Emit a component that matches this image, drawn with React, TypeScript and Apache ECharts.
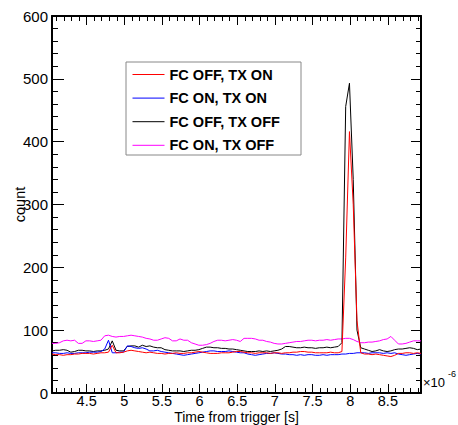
import React, { useEffect, useRef } from "react";
import * as echarts from "echarts";

// Time axis (units of 1e-6 s)
const times = [
  4.04, 4.09, 4.14, 4.19, 4.24, 4.29, 4.34, 4.39, 4.44, 4.49,
  4.54, 4.59, 4.64, 4.69, 4.74, 4.79, 4.84, 4.89, 4.94, 4.99,
  5.04, 5.09, 5.14, 5.19, 5.24, 5.29, 5.34, 5.39, 5.44, 5.49,
  5.54, 5.59, 5.64, 5.69, 5.74, 5.79, 5.84, 5.89, 5.94, 5.99,
  6.04, 6.09, 6.14, 6.19, 6.24, 6.29, 6.34, 6.39, 6.44, 6.49,
  6.54, 6.59, 6.64, 6.69, 6.74, 6.79, 6.84, 6.89, 6.94, 6.99,
  7.04, 7.09, 7.14, 7.19, 7.24, 7.29, 7.34, 7.39, 7.44, 7.49,
  7.54, 7.59, 7.64, 7.69, 7.74, 7.79, 7.84, 7.89, 7.94, 7.99,
  8.04, 8.09, 8.14, 8.19, 8.24, 8.29, 8.34, 8.39, 8.44, 8.49,
  8.54, 8.59, 8.64, 8.69, 8.74, 8.79, 8.84, 8.89, 8.94,
];

// FC OFF, TX ON (red)
const fcOffTxOn = [
  62, 61, 61, 60, 61, 61, 62, 62, 63, 63,
  63, 62, 63, 64, 64, 65, 76, 64, 64, 65,
  67, 68, 67, 66, 65, 64, 65, 64, 63, 63,
  62, 63, 63, 64, 63, 63, 64, 64, 65, 66,
  65, 64, 63, 63, 63, 64, 64, 64, 65, 66,
  66, 65, 64, 64, 63, 64, 64, 64, 63, 64,
  64, 63, 64, 64, 65, 65, 66, 66, 65, 65,
  64, 64, 64, 64, 65, 64, 64, 66, 215, 416,
  300, 115, 64, 62, 62, 61, 62, 61, 60, 59,
  58, 60, 63, 63, 64, 64, 63, 64, 63,
];

// FC ON, TX ON (blue)
const fcOnTxOn = [
  64, 64, 63, 63, 64, 63, 63, 64, 64, 64,
  65, 65, 65, 66, 70, 84, 64, 64, 65, 65,
  75, 74, 72, 71, 72, 70, 67, 67, 68, 66,
  65, 64, 63, 62, 61, 60, 61, 62, 63, 64,
  65, 66, 67, 67, 66, 66, 66, 67, 66, 65,
  64, 64, 62, 61, 60, 61, 62, 63, 63, 64,
  63, 62, 62, 61, 61, 60, 61, 60, 61, 61,
  60, 60, 61, 60, 61, 61, 61, 62, 62, 63,
  63, 64, 64, 64, 63, 64, 64, 64, 63, 64,
  63, 64, 62, 61, 60, 61, 62, 63, 62,
];

// FC OFF, TX OFF (black)
const fcOffTxOff = [
  67, 68, 68, 69, 68, 65, 66, 68, 68, 67,
  67, 66, 67, 67, 68, 70, 83, 68, 67, 67,
  74, 75, 75, 73, 76, 74, 75, 73, 72, 72,
  69, 68, 67, 67, 67, 66, 67, 68, 68, 69,
  71, 73, 73, 72, 72, 71, 71, 70, 70, 69,
  68, 67, 66, 66, 66, 67, 66, 67, 66, 67,
  68, 70, 74, 74, 73, 72, 72, 73, 72, 72,
  71, 72, 72, 73, 72, 73, 74, 80, 456, 493,
  340, 100, 72, 70, 68, 66, 67, 69, 67, 66,
  67, 69, 70, 70, 71, 72, 71, 69, 70,
];

// FC ON, TX OFF (magenta)
const fcOnTxOff = [
  79, 79, 80, 83, 84, 83, 84, 79, 79, 83,
  83, 82, 83, 84, 91, 92, 90, 89, 90, 90,
  91, 92, 91, 90, 89, 87, 86, 84, 84, 86,
  88, 87, 83, 83, 86, 84, 84, 80, 78, 76,
  76, 77, 79, 82, 84, 84, 83, 84, 85, 84,
  82, 87, 87, 87, 86, 84, 84, 82, 81, 79,
  78, 78, 79, 80, 81, 82, 82, 83, 84, 84,
  83, 84, 84, 85, 84, 85, 86, 86, 87, 87,
  85, 82, 80, 80, 81, 81, 82, 83, 85, 86,
  90, 84, 78, 78, 79, 81, 83, 83, 83,
];

const xMajorTicks = [4.5, 5, 5.5, 6, 6.5, 7, 7.5, 8, 8.5];
const xMinorTicks = Array.from({ length: 49 }, (_, k) => (41 + k) / 10);
const X_MIN = 4.04;
const X_MAX = 8.94;

const FONT = "'Liberation Sans', Arial, Helvetica, sans-serif";

const seriesDefs = [
  { name: "FC OFF, TX ON", values: fcOffTxOn, color: "#ff0000", z: 5 },
  { name: "FC ON, TX ON", values: fcOnTxOn, color: "#0000ff", z: 4 },
  { name: "FC OFF, TX OFF", values: fcOffTxOff, color: "#000000", z: 3 },
  { name: "FC ON, TX OFF", values: fcOnTxOff, color: "#ff00ff", z: 2 },
];

export default function App() {
  const ref = useRef<HTMLDivElement>(null);

  useEffect(() => {
    if (!ref.current) return;
    const chart = echarts.init(ref.current, undefined, { renderer: "svg" });

    const axisLineStyle = { color: "#000", width: 2 };
    const baseX = {
      type: "value" as const,
      min: X_MIN,
      max: X_MAX,
      splitLine: { show: false },
    };

    chart.setOption({
      animation: false,
      backgroundColor: "#fff",
      grid: {
        left: 52,
        right: 37,
        top: 16,
        bottom: 32,
        containLabel: false,
        outerBoundsMode: "none",
      },
      xAxis: [
        {
          ...baseX,
          position: "bottom",
          axisLine: { show: true, onZero: false, lineStyle: axisLineStyle },
          axisTick: {
            show: true,
            inside: true,
            length: 9,
            customValues: xMajorTicks,
            lineStyle: { color: "#000", width: 1 },
          },
          axisLabel: {
            customValues: xMajorTicks,
            margin: 2,
            fontSize: 14.5,
            lineHeight: 12,
            color: "#000",
            fontFamily: FONT,
          },
          name: "Time from trigger [s]",
          nameLocation: "middle",
          nameGap: 18,
          nameMoveOverlap: false,
          nameTextStyle: { fontSize: 14, lineHeight: 12, color: "#000", fontFamily: FONT },
        },
        {
          ...baseX,
          position: "bottom",
          axisLine: { show: false, onZero: false },
          axisTick: {
            show: true,
            inside: true,
            length: 5,
            customValues: xMinorTicks,
            lineStyle: { color: "#000", width: 1 },
          },
          axisLabel: { show: false },
        },
        {
          ...baseX,
          position: "top",
          axisLine: { show: true, onZero: false, lineStyle: axisLineStyle },
          axisTick: {
            show: true,
            inside: true,
            length: 9,
            customValues: xMajorTicks,
            lineStyle: { color: "#000", width: 1 },
          },
          axisLabel: { show: false },
        },
        {
          ...baseX,
          position: "top",
          axisLine: { show: false, onZero: false },
          axisTick: {
            show: true,
            inside: true,
            length: 5,
            customValues: xMinorTicks,
            lineStyle: { color: "#000", width: 1 },
          },
          axisLabel: { show: false },
        },
      ],
      yAxis: [
        {
          type: "value",
          position: "left",
          min: 0,
          max: 600,
          interval: 100,
          axisLine: { show: true, onZero: false, lineStyle: axisLineStyle },
          axisTick: { show: true, inside: true, length: 12, lineStyle: { color: "#000", width: 1 } },
          minorTick: { show: true, splitNumber: 5, length: 6, lineStyle: { color: "#000", width: 1 } },
          splitLine: { show: false },
          minorSplitLine: { show: false },
          axisLabel: { margin: 4, fontSize: 15, color: "#000", fontFamily: FONT },
          name: "count",
          nameLocation: "middle",
          nameGap: 25,
          nameMoveOverlap: false,
          nameTextStyle: { fontSize: 14.5, color: "#000", fontFamily: FONT },
        },
        {
          type: "value",
          position: "right",
          min: 0,
          max: 600,
          interval: 100,
          axisLine: { show: true, onZero: false, lineStyle: axisLineStyle },
          axisTick: { show: true, inside: true, length: 10, lineStyle: { color: "#000", width: 1 } },
          minorTick: { show: true, splitNumber: 5, length: 5, lineStyle: { color: "#000", width: 1 } },
          splitLine: { show: false },
          minorSplitLine: { show: false },
          axisLabel: { show: false },
        },
      ],
      legend: {
        show: true,
        orient: "vertical",
        left: 132,
        top: 67,
        padding: 0,
        itemWidth: 32,
        itemHeight: 14,
        itemGap: 8.6,
        selectedMode: false,
        z: 10,
        itemStyle: { opacity: 0, borderWidth: 0 },
        lineStyle: { width: 1 },
        data: seriesDefs.map((s) => s.name),
        textStyle: { fontSize: 14.5, fontWeight: "bold", color: "#000", fontFamily: FONT },
      },
      graphic: [
        {
          type: "rect",
          z: 1,
          shape: { x: 126, y: 62, width: 175, height: 93 },
          style: { fill: "#fff", stroke: "#888", lineWidth: 1 },
        },
        {
          type: "text",
          left: 423,
          top: 376,
          style: { text: "×10", fontSize: 13, fontFamily: FONT, fill: "#000" },
        },
        {
          type: "text",
          left: 448,
          top: 369,
          style: { text: "-6", fontSize: 9, fontFamily: FONT, fill: "#000" },
        },
      ],
      series: seriesDefs.map((s) => ({
        name: s.name,
        type: "line",
        xAxisIndex: 0,
        yAxisIndex: 0,
        data: times.map((t, i) => [t, s.values[i]]),
        symbol: "none",
        showSymbol: false,
        z: s.z,
        lineStyle: { color: s.color, width: 1 },
        itemStyle: { color: s.color },
      })),
    });

    return () => chart.dispose();
  }, []);

  return (
    <div
      ref={ref}
      style={{ position: "fixed", left: 0, top: 0, width: 458, height: 425, background: "#fff" }}
    />
  );
}
